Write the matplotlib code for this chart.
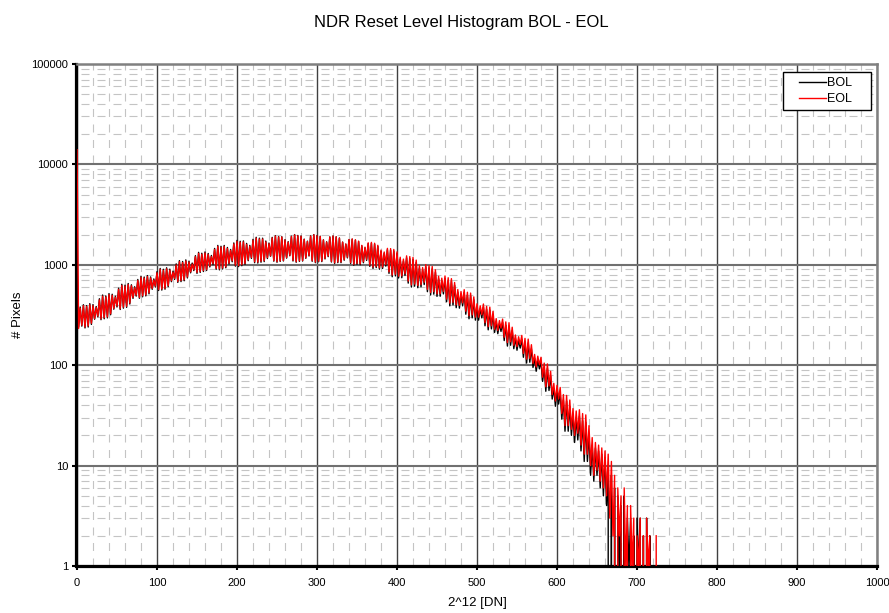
import numpy as np
import matplotlib
matplotlib.use("Agg")
from matplotlib import pyplot as plt
from matplotlib.ticker import FixedLocator, NullFormatter
from matplotlib.legend_handler import HandlerLine2D

plt.rcParams['font.family'] = ['Liberation Sans', 'DejaVu Sans']
plt.rcParams['lines.scale_dashes'] = False

# histogram, one value every 2 DN (12 values per row = 24 DN)
dn_step = 2

bol_counts = [
    1100, 240, 380, 245, 400, 235, 392, 240, 410, 255, 402, 287,
    384, 303, 459, 284, 500, 290, 490, 296, 517, 318, 509, 361,
    487, 380, 585, 359, 640, 370, 627, 377, 651, 407, 632, 463,
    604, 488, 714, 464, 770, 480, 755, 490, 781, 514, 757, 570,
    723, 601, 854, 555, 920, 560, 902, 571, 934, 606, 905, 679,
    865, 716, 1021, 668, 1100, 680, 1078, 694, 1119, 740, 1088, 832,
    1040, 877, 1232, 822, 1330, 840, 1303, 857, 1343, 878, 1296, 952,
    1238, 1003, 1455, 904, 1560, 890, 1529, 908, 1558, 934, 1487, 1016,
    1421, 1072, 1650, 970, 1750, 960, 1715, 979, 1729, 1009, 1633, 1099,
    1560, 1159, 1792, 1050, 1880, 1040, 1842, 1061, 1841, 1076, 1724, 1155,
    1647, 1218, 1875, 1087, 1950, 1060, 1911, 1081, 1904, 1092, 1778, 1166,
    1699, 1230, 1928, 1092, 2000, 1060, 1960, 1081, 1940, 1090, 1800, 1161,
    1720, 1224, 1940, 1085, 2000, 1050, 1960, 1071, 1925, 1076, 1773, 1144,
    1694, 1206, 1896, 1066, 1940, 1030, 1901, 1051, 1848, 1051, 1682, 1111,
    1607, 1172, 1780, 1030, 1800, 990, 1764, 1010, 1706, 1001, 1546, 1049,
    1477, 1107, 1629, 965, 1640, 920, 1607, 938, 1530, 904, 1364, 920,
    1303, 970, 1414, 822, 1400, 760, 1372, 775, 1295, 739, 1142, 743,
    1091, 783, 1174, 657, 1150, 600, 1127, 612, 1059, 591, 931, 603,
    889, 636, 953, 540, 930, 500, 911, 510, 843, 485, 726, 486,
    694, 513, 731, 428, 700, 390, 686, 398, 627, 374, 533, 370,
    509, 390, 530, 322, 500, 290, 490, 296, 448, 281, 382, 281,
    365, 296, 380, 247, 360, 225, 353, 230, 320, 212, 270, 206,
    258, 217, 267, 176, 250, 155, 245, 158, 221, 146, 185, 141,
    177, 148, 182, 120, 170, 105, 167, 107, 146, 95, 117, 87,
    112, 92, 109, 69, 95, 55, 93, 56, 78, 46, 59, 39,
    56, 41, 53, 29, 45, 22, 44, 22, 39, 20, 32, 17,
    30, 18, 31, 14, 28, 11, 27, 11, 21, 8, 16, 7,
    15, 8, 14, 6, 13, 5, 12, 4, 10, 0, 8, 0,
    6, 0, 5, 1, 4, 0, 5, 0, 3, 1, 3, 0,
    2, 0, 3, 1, 3, 0, 2, 0, 3, 0, 2, 0,
]

eol_counts = [
    14000, 232, 370, 250, 392, 240, 385, 246, 400, 262, 392, 292,
    375, 308, 447, 290, 487, 297, 478, 303, 505, 325, 497, 368,
    476, 388, 570, 367, 624, 379, 612, 386, 636, 416, 618, 473,
    590, 498, 697, 474, 752, 491, 737, 501, 763, 526, 740, 582,
    706, 614, 834, 568, 898, 573, 881, 584, 912, 619, 884, 694,
    845, 732, 997, 683, 1074, 696, 1053, 710, 1093, 757, 1063, 850,
    1016, 896, 1204, 841, 1300, 859, 1274, 876, 1312, 897, 1267, 972,
    1210, 1025, 1422, 924, 1525, 910, 1495, 928, 1523, 955, 1454, 1038,
    1390, 1095, 1614, 992, 1712, 982, 1678, 1000, 1691, 1031, 1598, 1122,
    1528, 1183, 1755, 1073, 1842, 1063, 1805, 1084, 1804, 1099, 1690, 1179,
    1620, 1230, 1850, 1100, 1930, 1075, 1895, 1095, 1890, 1105, 1765, 1180,
    1680, 1245, 1910, 1105, 1985, 1075, 1945, 1095, 1925, 1102, 1790, 1175,
    1705, 1238, 1925, 1098, 1990, 1065, 1950, 1085, 1915, 1090, 1765, 1158,
    1685, 1222, 1890, 1082, 1935, 1047, 1898, 1068, 1846, 1068, 1682, 1130,
    1610, 1192, 1785, 1050, 1810, 1010, 1775, 1030, 1720, 1022, 1562, 1072,
    1500, 1135, 1655, 992, 1672, 948, 1640, 966, 1565, 932, 1400, 950,
    1342, 1005, 1458, 852, 1450, 790, 1422, 806, 1345, 770, 1190, 775,
    1140, 818, 1228, 688, 1207, 630, 1184, 643, 1114, 622, 982, 635,
    939, 670, 1005, 569, 982, 529, 962, 540, 892, 513, 770, 515,
    736, 544, 775, 455, 743, 415, 728, 423, 666, 399, 567, 395,
    542, 417, 565, 345, 533, 311, 523, 317, 479, 301, 409, 301,
    391, 318, 407, 265, 386, 242, 379, 247, 344, 228, 291, 222,
    278, 234, 288, 190, 270, 168, 265, 171, 239, 158, 200, 153,
    192, 161, 198, 131, 185, 115, 182, 117, 160, 104, 128, 96,
    123, 101, 120, 76, 105, 61, 103, 62, 87, 51, 66, 44,
    63, 46, 60, 33, 51, 25, 50, 25, 45, 23, 37, 20,
    35, 21, 36, 16, 33, 13, 32, 13, 25, 10, 19, 8,
    17, 9, 16, 7, 15, 6, 14, 5, 13, 3, 11, 2,
    8, 0, 6, 2, 5, 0, 6, 1, 4, 0, 4, 1,
    3, 0, 2, 1, 3, 0, 2, 0, 3, 1, 2, 0,
    0, 0, 2,
]

bol_dn = np.arange(len(bol_counts)) * dn_step
eol_dn = np.arange(len(eol_counts)) * dn_step

W, H = 889, 613
PT = 0.72  # points per pixel at 100 dpi
fig = plt.figure(figsize=(W / 100, H / 100), dpi=100)
# plot area: x 77..877 px, y 64..566 px
ax = fig.add_axes([77 / W, 1 - 566 / H, 800 / W, 502 / H])

ax.plot(bol_dn, bol_counts, color='black', lw=1.0, label='BOL', zorder=3)
ax.plot(eol_dn, eol_counts, color='red', lw=1.0, label='EOL', zorder=3)

ax.set_yscale('log', nonpositive='clip')
ax.set_xlim(0, 1000)
ax.set_ylim(1, 100000)

ax.xaxis.set_major_locator(FixedLocator(np.arange(0, 1001, 100)))
ax.xaxis.set_minor_locator(FixedLocator([v for v in range(0, 1001, 20) if v % 100]))
ax.yaxis.set_major_locator(FixedLocator([1, 10, 100, 1000, 10000, 100000]))
ax.yaxis.set_minor_locator(FixedLocator([m * 10**e for e in range(5) for m in range(2, 10)]))
ax.yaxis.set_minor_formatter(NullFormatter())
ax.set_yticklabels(['1', '10', '100', '1000', '10000', '100000'])

ax.grid(which='major', axis='x', color='#404040', lw=1.0)
ax.grid(which='major', axis='y', color='#707070', lw=1.5)
# horizontal dashes sit between the vertical minor lines
ax.grid(which='minor', axis='y', color='#c4c4c4', lw=0.8,
        linestyle=(12 * PT, (8 * PT, 8 * PT)))
ax.grid(which='minor', axis='x', color='#c4c4c4', lw=0.8,
        linestyle=(0, (8 * PT, 7.5 * PT)))
ax.set_axisbelow(True)

ax.tick_params(which='major', direction='out', length=3, width=1.5, labelsize=8)
ax.tick_params(axis='x', pad=6)
ax.tick_params(axis='y', pad=2.5)
ax.tick_params(which='minor', length=0)

for side in ('left', 'bottom'):
    ax.spines[side].set_linewidth(2.3)
    ax.spines[side].set_color('black')
ax.spines['left'].set_position(('outward', 1))
for side in ('top', 'right'):
    ax.spines[side].set_linewidth(1.8)
    ax.spines[side].set_color('#808080')

ax.set_xlabel('2^12 [DN]', fontsize=9.5)
ax.xaxis.set_label_coords(0.5, -(603 - 566) / 502, transform=ax.transAxes)
ax.xaxis.label.set_va('center')
ax.set_ylabel('# Pixels', fontsize=9.5)
ax.yaxis.set_label_coords(-(77 - 18) / 800, 0.5)
ax.yaxis.label.set_va('center')

fig.text(461.5 / W, 1 - 22 / H, 'NDR Reset Level Histogram BOL - EOL',
         fontsize=12, ha='center', va='center')

# legend box spans x 783..871, y 72..110 px
leg_top = (566 - 72) / 502
leg = ax.legend(loc='upper left', mode='expand',
                bbox_to_anchor=((783 - 77) / 800, leg_top - 0.1, 88 / 800, 0.1),
                borderaxespad=0, fontsize=9, fancybox=False, framealpha=1,
                edgecolor='black', handlelength=3.04, borderpad=0.4,
                handletextpad=0.1, labelspacing=0.35,
                handler_map={plt.Line2D: HandlerLine2D(xpad=0.88)})
leg.get_frame().set_linewidth(1)

fig.savefig('out.png', dpi=100)
